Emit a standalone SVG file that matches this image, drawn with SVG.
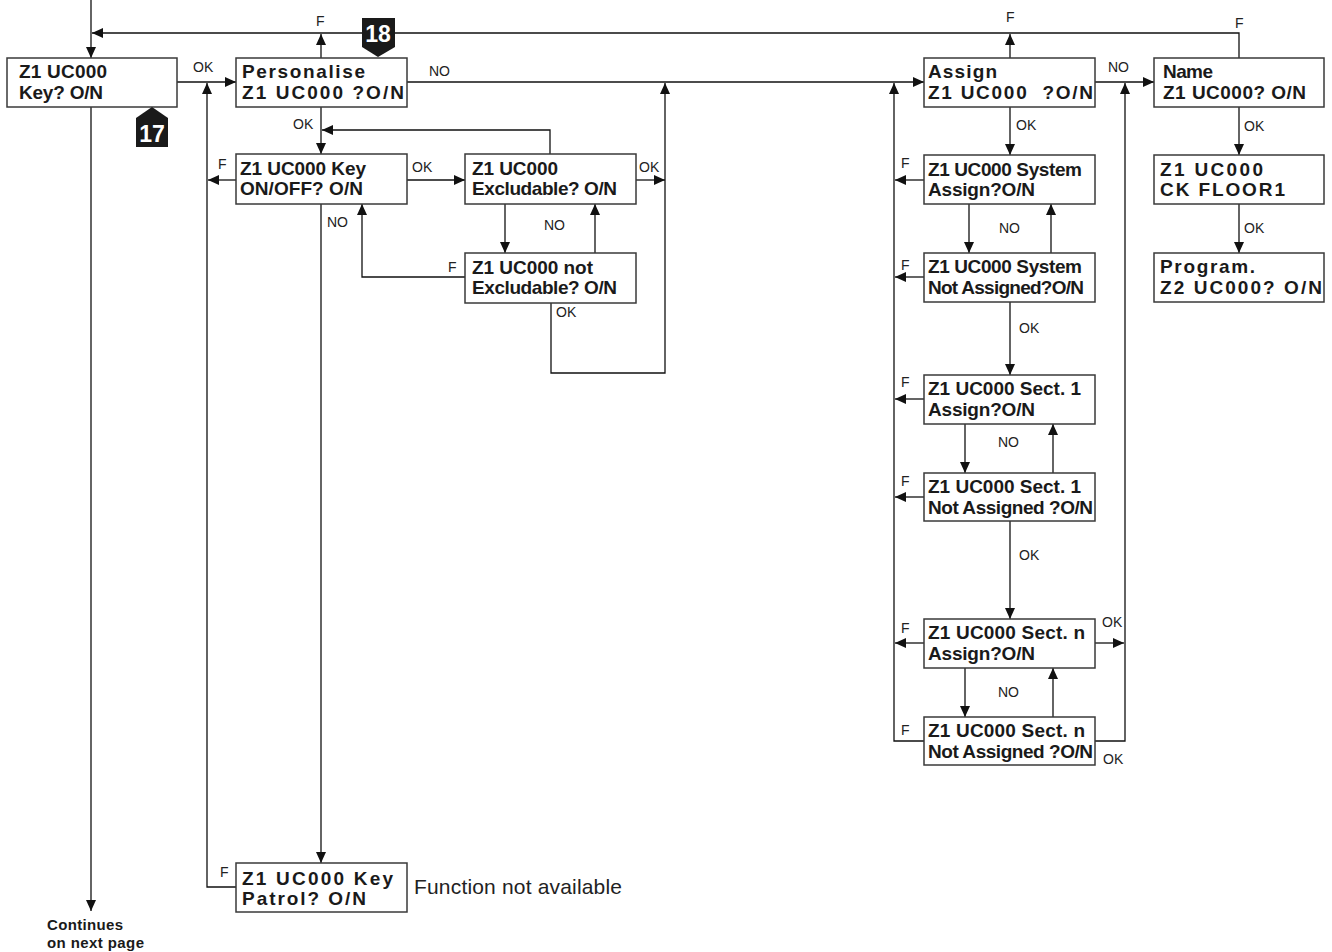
<svg xmlns="http://www.w3.org/2000/svg" width="1332" height="952" viewBox="0 0 1332 952">
<style>
.box{fill:#fff;stroke:#3a3a3a;stroke-width:1.5}
.t{font-family:"Liberation Sans",Arial,sans-serif;font-weight:bold;font-size:19px;fill:#1a1a1a;white-space:pre}
.l{font-family:"Liberation Sans",Arial,sans-serif;font-size:14px;fill:#222}
.c{fill:none;stroke:#111;stroke-width:1.3}
.mk{fill:#1a1a1a}
.mt{font-family:"Liberation Sans",Arial,sans-serif;font-weight:bold;font-size:23px;fill:#fff}
</style>
<defs>
<marker id="a" markerUnits="userSpaceOnUse" markerWidth="12" markerHeight="10" refX="11" refY="5" orient="auto"><path d="M0,0 L11,5 L0,10 Z" fill="#111"/></marker>
</defs>
<g id="connectors">
<path class="c" d="M91,0 V58" marker-end="url(#a)"/>
<path class="c" d="M1239,58 V33 H92" marker-end="url(#a)"/>
<path class="c" d="M321,58 V34" marker-end="url(#a)"/>
<path class="c" d="M1010,58 V34" marker-end="url(#a)"/>
<path class="c" d="M177,82 H236" marker-end="url(#a)"/>
<path class="c" d="M236,887 H207 V83" marker-end="url(#a)"/>
<path class="c" d="M236,180 H208" marker-end="url(#a)"/>
<path class="c" d="M321,107 V154" marker-end="url(#a)"/>
<path class="c" d="M550,154 V130 H322" marker-end="url(#a)"/>
<path class="c" d="M407,180 H465" marker-end="url(#a)"/>
<path class="c" d="M636,180 H665" marker-end="url(#a)"/>
<path class="c" d="M551,303 V373 H665 V83" marker-end="url(#a)"/>
<path class="c" d="M505,204 V253" marker-end="url(#a)"/>
<path class="c" d="M595,253 V204" marker-end="url(#a)"/>
<path class="c" d="M465,277 H362 V204" marker-end="url(#a)"/>
<path class="c" d="M321,204 V863" marker-end="url(#a)"/>
<path class="c" d="M407,82 H924" marker-end="url(#a)"/>
<path class="c" d="M1095,82 H1154" marker-end="url(#a)"/>
<path class="c" d="M924,741 H894 V83" marker-end="url(#a)"/>
<path class="c" d="M924,180 H895" marker-end="url(#a)"/>
<path class="c" d="M924,277 H895" marker-end="url(#a)"/>
<path class="c" d="M924,399 H895" marker-end="url(#a)"/>
<path class="c" d="M924,497 H895" marker-end="url(#a)"/>
<path class="c" d="M924,643 H895" marker-end="url(#a)"/>
<path class="c" d="M1095,741 H1125 V83" marker-end="url(#a)"/>
<path class="c" d="M1095,643 H1124" marker-end="url(#a)"/>
<path class="c" d="M1010,107 V155" marker-end="url(#a)"/>
<path class="c" d="M969,204 V253" marker-end="url(#a)"/>
<path class="c" d="M1051,253 V204" marker-end="url(#a)"/>
<path class="c" d="M1010,302 V375" marker-end="url(#a)"/>
<path class="c" d="M965,424 V473" marker-end="url(#a)"/>
<path class="c" d="M1053,473 V424" marker-end="url(#a)"/>
<path class="c" d="M1010,521 V619" marker-end="url(#a)"/>
<path class="c" d="M965,668 V717" marker-end="url(#a)"/>
<path class="c" d="M1053,717 V668" marker-end="url(#a)"/>
<path class="c" d="M1239,107 V155" marker-end="url(#a)"/>
<path class="c" d="M1239,204 V253" marker-end="url(#a)"/>
<path class="c" d="M91,107 V911" marker-end="url(#a)"/>
</g>
<g id="labels">
<text class="l" x="316" y="26">F</text>
<text class="l" x="1006" y="22">F</text>
<text class="l" x="1235" y="28">F</text>
<text class="l" x="193" y="72">OK</text>
<text class="l" x="429" y="76">NO</text>
<text class="l" x="293" y="129">OK</text>
<text class="l" x="218" y="169">F</text>
<text class="l" x="412" y="172">OK</text>
<text class="l" x="639" y="172">OK</text>
<text class="l" x="327" y="227">NO</text>
<text class="l" x="544" y="230">NO</text>
<text class="l" x="448" y="272">F</text>
<text class="l" x="556" y="317">OK</text>
<text class="l" x="220" y="877">F</text>
<text class="l" x="1108" y="72">NO</text>
<text class="l" x="1016" y="130">OK</text>
<text class="l" x="901" y="168">F</text>
<text class="l" x="999" y="233">NO</text>
<text class="l" x="901" y="270">F</text>
<text class="l" x="1244" y="131">OK</text>
<text class="l" x="1244" y="233">OK</text>
<text class="l" x="1019" y="333">OK</text>
<text class="l" x="901" y="387">F</text>
<text class="l" x="998" y="447">NO</text>
<text class="l" x="901" y="486">F</text>
<text class="l" x="1019" y="560">OK</text>
<text class="l" x="901" y="633">F</text>
<text class="l" x="1102" y="627">OK</text>
<text class="l" x="998" y="697">NO</text>
<text class="l" x="901" y="735">F</text>
<text class="l" x="1103" y="764">OK</text>
<text class="l" x="414" y="894" style="font-size:21px" textLength="208">Function not available</text>
<text class="t" x="47" y="930" style="font-size:15px" textLength="76">Continues</text>
<text class="t" x="47" y="948" style="font-size:15px" textLength="97">on next page</text>
</g>
<g id="n-key">
<rect class="box" x="7" y="58" width="170" height="49"/>
<text class="t" x="19" y="78" textLength="88">Z1 UC000</text>
<text class="t" x="19" y="99" textLength="84">Key? O/N</text>
</g>
<g id="n-personalise">
<rect class="box" x="236" y="58" width="171" height="49"/>
<text class="t" x="242" y="78" textLength="123">Personalise</text>
<text class="t" x="242" y="99" textLength="162">Z1 UC000 ?O/N</text>
</g>
<g id="n-onoff">
<rect class="box" x="236" y="154" width="171" height="50"/>
<text class="t" x="240" y="175" textLength="126">Z1 UC000 Key</text>
<text class="t" x="240" y="195" textLength="123">ON/OFF? O/N</text>
</g>
<g id="n-excl">
<rect class="box" x="465" y="154" width="171" height="50"/>
<text class="t" x="472" y="175" textLength="86">Z1 UC000</text>
<text class="t" x="472" y="195" textLength="145">Excludable? O/N</text>
</g>
<g id="n-notexcl">
<rect class="box" x="465" y="253" width="171" height="50"/>
<text class="t" x="472" y="274" textLength="121">Z1 UC000 not</text>
<text class="t" x="472" y="294" textLength="145">Excludable? O/N</text>
</g>
<g id="n-patrol">
<rect class="box" x="236" y="863" width="171" height="49"/>
<text class="t" x="242" y="885" textLength="151">Z1 UC000 Key</text>
<text class="t" x="242" y="905" textLength="124">Patrol? O/N</text>
</g>
<g id="n-assign">
<rect class="box" x="924" y="58" width="171" height="49"/>
<text class="t" x="928" y="78" textLength="69">Assign</text>
<text class="t" x="928" y="99" textLength="165">Z1 UC000  ?O/N</text>
</g>
<g id="n-name">
<rect class="box" x="1154" y="58" width="170" height="49"/>
<text class="t" x="1163" y="78" textLength="50">Name</text>
<text class="t" x="1163" y="99" textLength="143">Z1 UC000? O/N</text>
</g>
<g id="n-sysassign">
<rect class="box" x="924" y="155" width="171" height="49"/>
<text class="t" x="928" y="176" textLength="154">Z1 UC000 System</text>
<text class="t" x="928" y="196" textLength="107">Assign?O/N</text>
</g>
<g id="n-sysnot">
<rect class="box" x="924" y="253" width="171" height="49"/>
<text class="t" x="928" y="273" textLength="154">Z1 UC000 System</text>
<text class="t" x="928" y="294" textLength="156">Not Assigned?O/N</text>
</g>
<g id="n-ck">
<rect class="box" x="1154" y="155" width="170" height="49"/>
<text class="t" x="1160" y="176" textLength="103">Z1 UC000</text>
<text class="t" x="1160" y="196" textLength="125">CK FLOOR1</text>
</g>
<g id="n-program">
<rect class="box" x="1154" y="253" width="170" height="49"/>
<text class="t" x="1160" y="273" textLength="95">Program.</text>
<text class="t" x="1160" y="294" textLength="162">Z2 UC000? O/N</text>
</g>
<g id="n-sect1assign">
<rect class="box" x="924" y="375" width="171" height="49"/>
<text class="t" x="928" y="395" textLength="153">Z1 UC000 Sect. 1</text>
<text class="t" x="928" y="416" textLength="107">Assign?O/N</text>
</g>
<g id="n-sect1not">
<rect class="box" x="924" y="473" width="171" height="48"/>
<text class="t" x="928" y="493" textLength="153">Z1 UC000 Sect. 1</text>
<text class="t" x="928" y="514" textLength="165">Not Assigned ?O/N</text>
</g>
<g id="n-sectnassign">
<rect class="box" x="924" y="619" width="171" height="49"/>
<text class="t" x="928" y="639" textLength="157">Z1 UC000 Sect. n</text>
<text class="t" x="928" y="660" textLength="107">Assign?O/N</text>
</g>
<g id="n-sectnnot">
<rect class="box" x="924" y="717" width="171" height="48"/>
<text class="t" x="928" y="737" textLength="157">Z1 UC000 Sect. n</text>
<text class="t" x="928" y="758" textLength="165">Not Assigned ?O/N</text>
</g>
<g id="m18">
<polygon class="mk" points="362,18 395,18 395,47 378,57 362,47"/>
<text class="mt" x="378" y="42" text-anchor="middle">18</text>
</g>
<g id="m17">
<polygon class="mk" points="152,107 168,118 168,147 136,147 136,118"/>
<text class="mt" x="152" y="142" text-anchor="middle">17</text>
</g>
</svg>
